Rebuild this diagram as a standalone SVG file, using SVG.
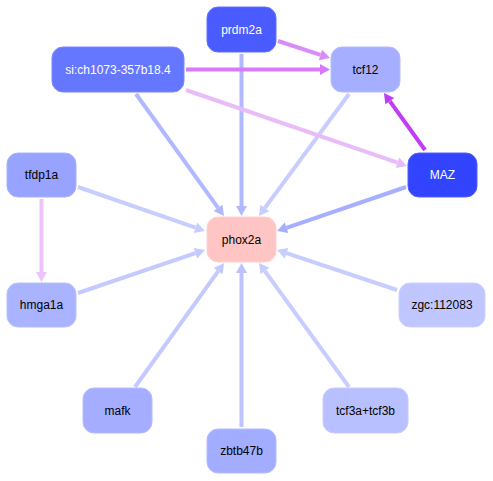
<svg xmlns="http://www.w3.org/2000/svg" width="493" height="481" viewBox="0 0 493 481">
<style>
.n rect{rx:11px;ry:11px;stroke-width:1}
.n text{font-family:"Liberation Sans",Arial,sans-serif;font-size:12px;text-anchor:middle;dominant-baseline:central}
.w{fill:#fff}
.b{fill:#000}
#edges line{stroke-width:4;fill:none}
</style>
<defs>
<marker id="a1" markerUnits="userSpaceOnUse" markerWidth="10" markerHeight="11" refX="0" refY="5.5" orient="auto" overflow="visible"><path d="M0,0 L10,5.5 L0,11 z" fill="#b0b9ff"/></marker>
<marker id="a2" markerUnits="userSpaceOnUse" markerWidth="10" markerHeight="11" refX="0" refY="5.5" orient="auto" overflow="visible"><path d="M0,0 L10,5.5 L0,11 z" fill="#c8cdff"/></marker>
<marker id="a3" markerUnits="userSpaceOnUse" markerWidth="10" markerHeight="11" refX="0" refY="5.5" orient="auto" overflow="visible"><path d="M0,0 L10,5.5 L0,11 z" fill="#a5aeff"/></marker>
<marker id="a4" markerUnits="userSpaceOnUse" markerWidth="10" markerHeight="11" refX="0" refY="5.5" orient="auto" overflow="visible"><path d="M0,0 L10,5.5 L0,11 z" fill="#bcc3ff"/></marker>
<marker id="a5" markerUnits="userSpaceOnUse" markerWidth="10" markerHeight="11" refX="0" refY="5.5" orient="auto" overflow="visible"><path d="M0,0 L10,5.5 L0,11 z" fill="#d88cf7"/></marker>
<marker id="a6" markerUnits="userSpaceOnUse" markerWidth="10" markerHeight="11" refX="0" refY="5.5" orient="auto" overflow="visible"><path d="M0,0 L10,5.5 L0,11 z" fill="#d67af7"/></marker>
<marker id="a7" markerUnits="userSpaceOnUse" markerWidth="10" markerHeight="11" refX="0" refY="5.5" orient="auto" overflow="visible"><path d="M0,0 L10,5.5 L0,11 z" fill="#e8bcf9"/></marker>
<marker id="a8" markerUnits="userSpaceOnUse" markerWidth="10" markerHeight="11" refX="0" refY="5.5" orient="auto" overflow="visible"><path d="M0,0 L10,5.5 L0,11 z" fill="#c03cf7"/></marker>
<marker id="a9" markerUnits="userSpaceOnUse" markerWidth="10" markerHeight="11" refX="0" refY="5.5" orient="auto" overflow="visible"><path d="M0,0 L10,5.5 L0,11 z" fill="#ecc4fb"/></marker>
<marker id="a10" markerUnits="userSpaceOnUse" markerWidth="10" markerHeight="11" refX="0" refY="5.5" orient="auto" overflow="visible"><path d="M0,0 L10,5.5 L0,11 z" fill="#c4caff"/></marker>
</defs>
<g id="edges">
<line x1="136" y1="94" x2="218.1" y2="207.9" stroke="#b0b9ff" marker-end="url(#a1)"/>
<line x1="241.5" y1="54" x2="241.5" y2="206" stroke="#b0b9ff" marker-end="url(#a1)"/>
<line x1="349" y1="94" x2="264.9" y2="207.9" stroke="#c8cdff" marker-end="url(#a2)"/>
<line x1="78" y1="187" x2="195.5" y2="227.7" stroke="#c8cdff" marker-end="url(#a2)"/>
<line x1="406" y1="187" x2="286.5" y2="227.8" stroke="#a5aeff" marker-end="url(#a3)"/>
<line x1="78" y1="293" x2="195.5" y2="253.2" stroke="#c4caff" marker-end="url(#a10)"/>
<line x1="397" y1="290" x2="286.5" y2="253.2" stroke="#c8cdff" marker-end="url(#a2)"/>
<line x1="135" y1="387" x2="218.2" y2="271.1" stroke="#c4caff" marker-end="url(#a10)"/>
<line x1="241.5" y1="427" x2="241.5" y2="273" stroke="#bcc3ff" marker-end="url(#a4)"/>
<line x1="349" y1="387" x2="264.9" y2="271.1" stroke="#c8cdff" marker-end="url(#a2)"/>
<line x1="278" y1="41" x2="320.5" y2="54.9" stroke="#d88cf7" marker-end="url(#a5)"/>
<line x1="186" y1="69.5" x2="320" y2="69.5" stroke="#d67af7" marker-end="url(#a6)"/>
<line x1="186" y1="90" x2="397.5" y2="162.7" stroke="#e8bcf9" marker-end="url(#a7)"/>
<line x1="425" y1="150" x2="389.8" y2="101.1" stroke="#c03cf7" marker-end="url(#a8)"/>
<line x1="41.5" y1="199" x2="41.5" y2="272" stroke="#ecc4fb" marker-end="url(#a9)"/>
</g>
<g id="prdm2a" class="n"><rect x="207" y="7" width="69" height="45" fill="#4a5cff" stroke="#6070ff"/><text x="241.5" y="29.5" class="w">prdm2a</text></g>
<g id="sich1073" class="n"><rect x="52" y="47" width="132" height="45" fill="#6677ff" stroke="#7a88ff"/><text x="118" y="69.5" class="w">si:ch1073-357b18.4</text></g>
<g id="tcf12" class="n"><rect x="331" y="47" width="69" height="45" fill="#a5aeff" stroke="#b5bcff"/><text x="365.5" y="69.5" class="b">tcf12</text></g>
<g id="tfdp1a" class="n"><rect x="7" y="153" width="69" height="44" fill="#97a3ff" stroke="#a8b2ff"/><text x="41.5" y="175" class="b">tfdp1a</text></g>
<g id="MAZ" class="n"><rect x="408" y="153" width="69" height="44" fill="#3344ff" stroke="#5060ff"/><text x="442.5" y="175" class="w">MAZ</text></g>
<g id="phox2a" class="n"><rect x="207" y="217" width="69" height="45" fill="#ffc4c4" stroke="#ffd0d0"/><text x="241.5" y="239.5" class="b">phox2a</text></g>
<g id="hmga1a" class="n"><rect x="7" y="283" width="69" height="44" fill="#a9b3ff" stroke="#b8c0ff"/><text x="41.5" y="305" class="b">hmga1a</text></g>
<g id="zgc112083" class="n"><rect x="399" y="283" width="86" height="44" fill="#c0c6ff" stroke="#ccd1ff"/><text x="442" y="305" class="b">zgc:112083</text></g>
<g id="mafk" class="n"><rect x="83" y="388" width="69" height="45" fill="#a4adff" stroke="#b4bcff"/><text x="117.5" y="410.5" class="b">mafk</text></g>
<g id="zbtb47b" class="n"><rect x="207" y="429" width="69" height="44" fill="#a3adff" stroke="#b3bbff"/><text x="241.5" y="451" class="b">zbtb47b</text></g>
<g id="tcf3a" class="n"><rect x="323" y="388" width="85" height="45" fill="#b8c0ff" stroke="#c6ccff"/><text x="365.5" y="410.5" class="b">tcf3a+tcf3b</text></g>
</svg>
